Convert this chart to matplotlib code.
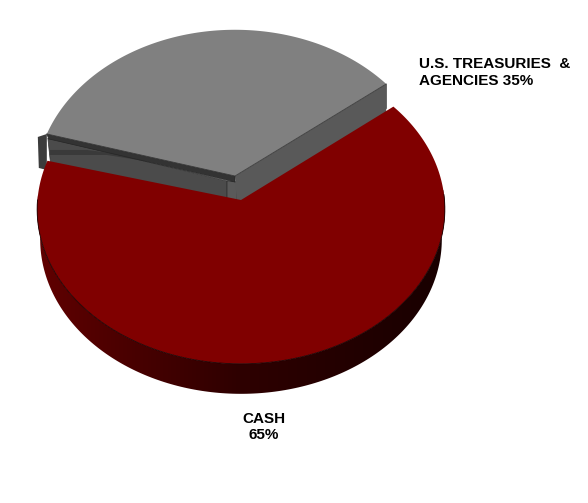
import numpy as np
import matplotlib
matplotlib.use("Agg")
import matplotlib.pyplot as plt
from matplotlib.colors import LinearSegmentedColormap
from matplotlib.patches import Polygon

categories = ["CASH", "U.S. TREASURIES  &\nAGENCIES"]
shares = [65, 35]

START_ANGLE = 38.0
RED_TURN = 1.0
TILT = 0.06
plt.rcParams["font.family"] = ["Liberation Sans", "DejaVu Sans"]


def project(theta, apex, rx, ry):
    # unit circle to screen, far side slightly shrunk
    t = np.radians(theta)
    x, y = np.cos(t), np.sin(t)
    w = 1 + TILT * y
    return np.column_stack([apex[0] + rx * x / w, apex[1] - ry * y / w])


def add_poly(ax, pts, color, edge="none", lw=0.0, z=1):
    patch = Polygon(pts, closed=True, facecolor=color, edgecolor=edge, linewidth=lw, zorder=z)
    ax.add_patch(patch)
    return patch


fig = plt.figure(figsize=(5.88, 5.03), dpi=100)
ax = fig.add_axes([0, 0, 1, 1])

sweep_grey = 360 * shares[1] / sum(shares)
sweep_red = 360 * shares[0] / sum(shares)
grey_a, grey_b = START_ANGLE, START_ANGLE + sweep_grey
red_a, red_b = grey_b + RED_TURN, grey_b + RED_TURN + sweep_red

red_apex = np.array([241.0, 200.0])
red_rx, red_ry = 203.5, 154
grey_apex = np.array([235.0, 176.0])
grey_rx, grey_ry = 199, 155
red_depth = 30
grey_depth = 30

# grey slice, walls first
g_right = project(grey_a, grey_apex, grey_rx, grey_ry)[0]
g_left = project(grey_b, grey_apex, grey_rx, grey_ry)[0]
down = np.array([0, grey_depth])

# back end of the slab sticking out on the left
add_poly(ax, [g_left + [-9, 3], g_left, g_left + [0, 36], g_left + [-8, 34]], "#3c3c3c", z=1)

# open inside of the slab
add_poly(ax, [g_left + [1, 4], grey_apex + [-8, 5], grey_apex + [-8, 28], g_left + [4, 32]], "#4b4b4b", "#333333", 0.5, z=2)
add_poly(ax, [g_left + [3, 16], g_left + [40, 16], g_left + [80, 21], g_left + [110, 29], g_left + [60, 21], g_left + [3, 21]], "#3a3a3a", z=2)
add_poly(ax, [grey_apex + [-8, 5], grey_apex + [2, 6], grey_apex + [2, 30], grey_apex + [-8, 28]], "#5a5a5a", "#333333", 0.6, z=3)

# front wall on the right
add_poly(ax, [grey_apex, g_right, g_right + down, grey_apex + [8, 28], grey_apex + [2, 28]], "#595959", z=3)

# thin dark lip under the left edge
add_poly(ax, [g_left, grey_apex, grey_apex + [0, 6], g_left + [2, 5]], "#333333", "#262626", 0.5, z=3)

# grey top
theta = np.linspace(grey_a, grey_b, 120)
add_poly(ax, np.vstack([grey_apex, project(theta, grey_apex, grey_rx, grey_ry)]), "#808080", z=4)
ax.plot(*np.array([g_left, grey_apex, g_right]).T, color="#3a3a3a", lw=0.6, zorder=5)
ax.plot(*np.array([g_right, g_right + [0, 24]]).T, color="#3a3a3a", lw=0.5, zorder=5)

# red side, a gradient clipped to the rim band
theta = np.linspace(178, 366, 200)
upper = project(theta, red_apex, red_rx, red_ry)
lower = project(theta, red_apex, red_rx * 0.985, red_ry) + [0, red_depth]
band = add_poly(ax, np.vstack([upper, lower[::-1]]), "none", z=5)
side_cmap = LinearSegmentedColormap.from_list("side", ["#620000", "#2e0000", "#180000"])
img = ax.imshow(np.linspace(0, 1, 256)[None, :], extent=(30, 450, 400, 190), cmap=side_cmap,
                aspect="auto", zorder=5)
img.set_clip_path(band)

# red top
theta = np.linspace(red_a, red_b, 300)
add_poly(ax, np.vstack([red_apex, project(theta, red_apex, red_rx, red_ry)]), "#800000", z=6)
ax.plot(*project(np.linspace(180, 362, 200), red_apex, red_rx, red_ry).T, color="#1a0000", lw=0.6, zorder=7)

ax.set_xlim(0, 588)
ax.set_ylim(503, 0)
ax.axis("off")

ax.text(419, 72.5, f"{categories[1]} {shares[1]}%", fontsize=11, fontweight="bold", color="black",
        ha="left", va="center", linespacing=1.2)
ax.text(264, 427, f"{categories[0]}\n{shares[0]}%", fontsize=11, fontweight="bold", color="black",
        ha="center", va="center", linespacing=1.2)

fig.savefig("out.png", dpi=100)
plt.close(fig)
